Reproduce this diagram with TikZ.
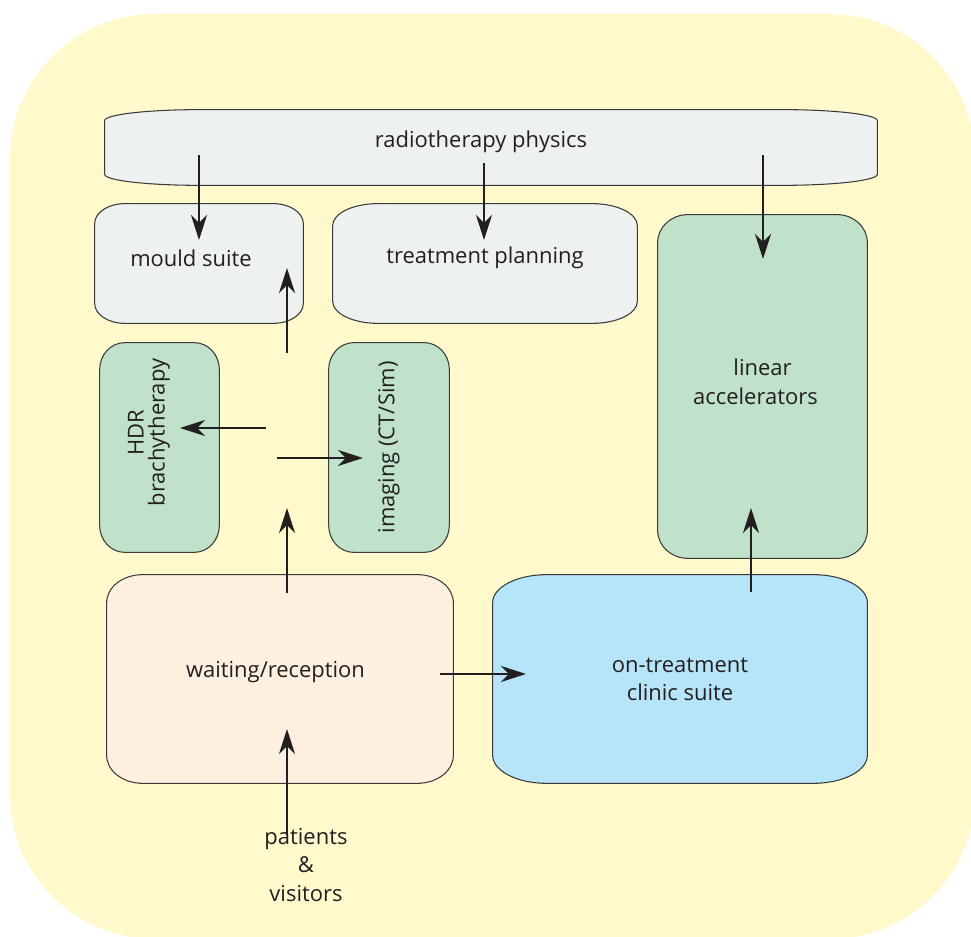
\documentclass[tikz,border=0pt]{standalone}
\usepackage{fontspec}
\usepackage{graphicx}
\setmainfont{Open Sans}
\usetikzlibrary{arrows.meta}

\definecolor{bgyellow}{HTML}{FFF9CC}
\definecolor{boxgrey}{HTML}{EDF1F0}
\definecolor{boxgreen}{HTML}{C0E2CB}
\definecolor{boxpeach}{HTML}{FEF0E0}
\definecolor{boxblue}{HTML}{B6E4F8}
\definecolor{inkgrey}{HTML}{231F20}
\definecolor{edgegrey}{HTML}{3A3A3A}

\pgfdeclarelayer{bg}
\pgfdeclarelayer{boxes}
\pgfsetlayers{bg,boxes,main}

\newcommand{\pxu}{0.02cm}
% box with elliptical corners, drawn behind a named node
\newcommand{\ovalbox}[4]{%
  \begin{pgfonlayer}{boxes}
    \draw[boxline, fill=#1]
      ([xshift=#3*\pxu]#2.north west) -- ([xshift=-#3*\pxu]#2.north east)
      arc[start angle=90, end angle=0, x radius=#3*\pxu, y radius=#4*\pxu]
      -- ([yshift=#4*\pxu]#2.south east)
      arc[start angle=0, end angle=-90, x radius=#3*\pxu, y radius=#4*\pxu]
      -- ([xshift=#3*\pxu]#2.south west)
      arc[start angle=270, end angle=180, x radius=#3*\pxu, y radius=#4*\pxu]
      -- ([yshift=-#4*\pxu]#2.north west)
      arc[start angle=180, end angle=90, x radius=#3*\pxu, y radius=#4*\pxu]
      -- cycle;
  \end{pgfonlayer}}

\begin{document}
\begin{tikzpicture}[
    x=\pxu, y=\pxu,
    room/.style = {inner sep=0pt, align=center, text=inkgrey, font=\fontsize{12.5}{16}\selectfont},
    lift/.style = {text depth=#1},
    boxline/.style = {draw=edgegrey, line width=0.6pt},
    arrow/.style = {draw=inkgrey, line width=1.1pt, -{Stealth[length=0.5cm, width=0.32cm, inset=0.16cm]}}
]
    \useasboundingbox (0,0) rectangle (971,937);
    \begin{pgfonlayer}{bg}
        \fill[bgyellow, rounded corners=2.9cm] (10,-2) rectangle (975,923);
    \end{pgfonlayer}

    \node[room, lift=9pt, minimum width=772*\pxu, minimum height=75*\pxu] (physics) at (491,789.5)
        {radiotherapy physics\hspace*{0.4cm}};
    \node[room, lift=6.5pt, minimum width=208*\pxu, minimum height=119*\pxu] (mould) at (199,673.5)
        {mould suite\hspace*{0.32cm}};
    \node[room, lift=9pt, minimum width=304*\pxu, minimum height=119*\pxu] (planning) at (485,673.5) {treatment planning};
    \node[room, lift=5.5pt, minimum width=209*\pxu, minimum height=343*\pxu] (linac) at (762.5,550.5)
        {linear\\accelerators\hspace*{0.28cm}};
    \node[room, minimum width=119*\pxu, minimum height=209*\pxu] (hdr) at (159.5,489.5)
        {\rotatebox{90}{\hspace*{0.6cm}\raisebox{0pt}[\height][\dimexpr\depth+0.44cm]{%
            \begin{tabular}{@{}c@{}}HDR\\[-4pt]brachytherapy\end{tabular}}}};
    \node[room, minimum width=120*\pxu, minimum height=209*\pxu] (imaging) at (389,489.5)
        {\rotatebox{90}{imaging (CT/Sim)}};
    \node[room, lift=11pt, minimum width=346*\pxu, minimum height=208*\pxu] (waiting) at (280,258)
        {waiting/reception\hspace*{0.18cm}};
    \node[room, minimum width=374*\pxu, minimum height=208*\pxu] (clinic) at (680,258) {on-treatment\\clinic suite};
    \node[room] (patients) at (306,72) {patients\\\&\\visitors};

    \ovalbox{boxgrey}{physics}{95}{11}
    \ovalbox{boxgrey}{mould}{30}{20}
    \ovalbox{boxgrey}{planning}{45}{22}
    \ovalbox{boxgreen}{linac}{30}{28}
    \ovalbox{boxgreen}{hdr}{25}{27}
    \ovalbox{boxgreen}{imaging}{25}{27}
    \ovalbox{boxpeach}{waiting}{36}{28}
    \ovalbox{boxblue}{clinic}{54}{28}

    % arrow ends inside the rooms
    \coordinate (toMould) at (199,697);
    \coordinate (fromPhysA) at (199,782);
    \coordinate (toPlan) at (484,697);
    \coordinate (fromPhysB) at (484,774);
    \coordinate (toLinac) at (763,678);
    \coordinate (fromPhysC) at (763,782);
    \coordinate (hallTop) at (287,584);
    \coordinate (mouldIn) at (287,669);
    \coordinate (hallLeft) at (266,509);
    \coordinate (hdrIn) at (180,509);
    \coordinate (hallRight) at (277,479);
    \coordinate (imagingIn) at (363,479);
    \coordinate (waitOut) at (287,344);
    \coordinate (hallIn) at (287,429);
    \coordinate (waitSide) at (440,263);
    \coordinate (clinicIn) at (526,263);
    \coordinate (clinicOut) at (751,345);
    \coordinate (linacIn) at (751,429);
    \coordinate (waitIn) at (287,208);

    \path[arrow] (fromPhysA) -- (toMould);
    \path[arrow] (fromPhysB) -- (toPlan);
    \path[arrow] (fromPhysC) -- (toLinac);
    \path[arrow] (hallTop) -- (mouldIn);
    \path[arrow] (hallLeft) -- (hdrIn);
    \path[arrow] (hallRight) -- (imagingIn);
    \path[arrow] (waitOut) -- (hallIn);
    \path[arrow] (waitSide) -- (clinicIn);
    \path[arrow] (clinicOut) -- (linacIn);
    \path[arrow] (patients.north -| waitIn) ++(0,-7) -- (waitIn);
\end{tikzpicture}
\end{document}
